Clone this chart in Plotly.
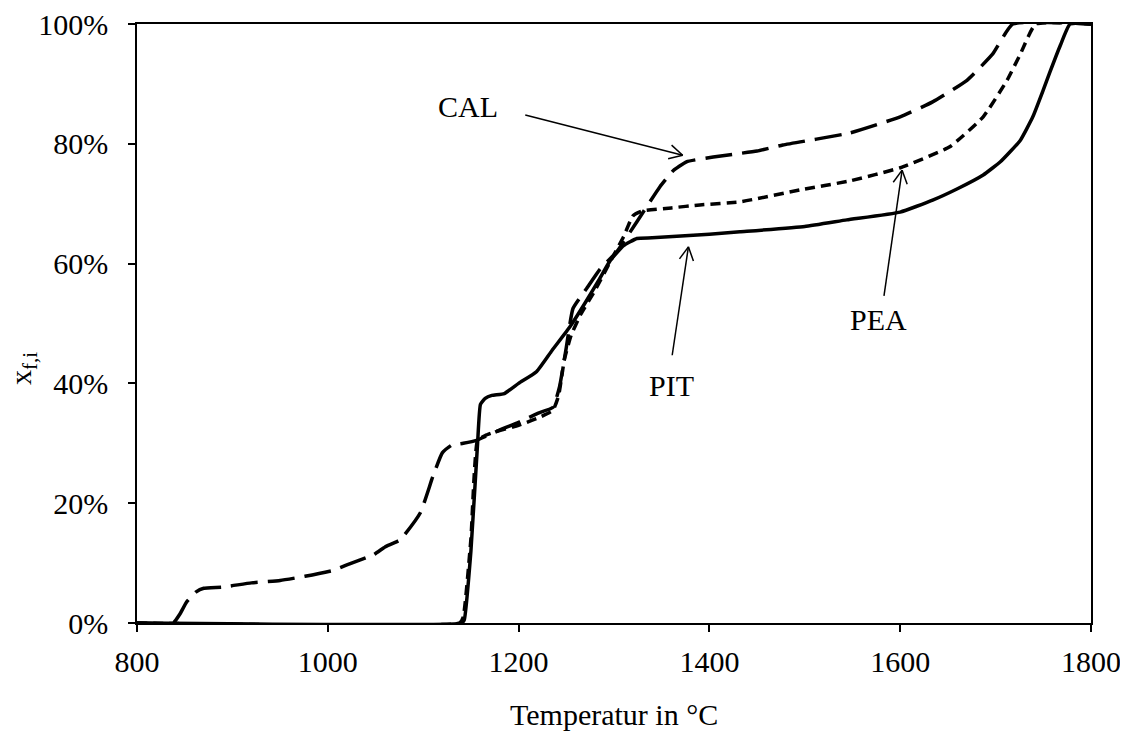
import math
import plotly.graph_objects as go

# ---------------- data ----------------
cal_T = [800, 838, 845, 852, 862, 870, 890, 920, 950, 976, 1006, 1020, 1048, 1060, 1076,
         1097, 1110, 1120, 1130, 1142, 1156, 1180, 1200, 1220, 1236, 1243, 1250, 1257,
         1272, 1285, 1303, 1324, 1348, 1362, 1376, 1404, 1450, 1477, 1547, 1600, 1634,
         1670, 1697, 1718, 1800]
cal_v = [0, 0, 1.5, 3.5, 5.2, 5.8, 6.0, 6.7, 7.1, 7.8, 8.8, 9.7, 11.4, 12.7, 13.9,
         18.4, 24.4, 28.4, 29.7, 30.0, 30.5, 32.2, 33.5, 35.0, 36.0, 39.5, 46.0, 52.5,
         56.0, 59.0, 62.0, 67.0, 72.8, 75.5, 77.0, 77.8, 78.8, 79.8, 81.8, 84.5, 87.0,
         90.6, 95.0, 100, 100]

pea_T = [800, 1138, 1142, 1150, 1157, 1165, 1177, 1200, 1220, 1236, 1242, 1248, 1255,
         1265, 1280, 1295, 1310, 1320, 1330, 1360, 1390, 1432, 1495, 1547, 1600, 1652,
         1687, 1712, 1726, 1742, 1800]
pea_v = [0, 0, 1, 14, 30.5, 31.3, 32.0, 33.0, 34.2, 35.5, 38.0, 44.0, 48.0,
         51.5, 55.5, 60.0, 64.5, 68.0, 68.8, 69.3, 69.8, 70.3, 72.3, 73.8, 76.0, 79.5,
         84.5, 90.6, 95.0, 100, 100]

pit_T = [800, 1140, 1143, 1150, 1157, 1160, 1165, 1172, 1185, 1200, 1219, 1235, 1254,
         1270, 1285, 1296, 1310, 1324, 1340, 1400, 1432, 1500, 1544, 1600, 1634, 1660,
         1687, 1705, 1726, 1739, 1750, 1757, 1768, 1778, 1800]
pit_v = [0, 0, 0.5, 12, 30, 36.5, 37.5, 38.0, 38.3, 40.0, 42.0, 45.5, 49.5,
         53.5, 57.5, 60.5, 63.0, 64.2, 64.3, 64.9, 65.3, 66.2, 67.3, 68.6, 70.6, 72.5,
         74.8, 77.0, 80.6, 84.5, 89.0, 92.0, 96.5, 100, 100]

x_ticks = [800, 1000, 1200, 1400, 1600, 1800]
x_tick_labels = ["800", "1000", "1200", "1400", "1600", "1800"]
y_ticks = [0, 20, 40, 60, 80, 100]
y_tick_labels = ["0%", "20%", "40%", "60%", "80%", "100%"]

x_title = "Temperatur in °C"
y_title = "x<sub>f,i</sub>"

labels = ["CAL", "PIT", "PEA"]
label_pos = [(1147, 86.2), (1360, 39.6), (1577, 50.6)]
arrow_tail = [(1207, 84.8), (1361, 44.7), (1583, 54.6)]
arrow_tip = [(1372, 78.1), (1378, 62.8), (1602, 75.6)]

# ---------------- figure ----------------
FONT = "Liberation Serif"
FS = 30
W, H = 1120, 725
L, R, T, B = 129, 37, 16, 110
PW, PH = W - L - R, H - T - B
XR = (800, 1800)
YR = (0, 100)
sx = PW / (XR[1] - XR[0])
sy = PH / (YR[1] - YR[0])

line_common = dict(color="black", width=3.5)
fig = go.Figure()
fig.add_trace(go.Scatter(x=cal_T, y=cal_v, mode="lines", name="CAL",
                         line=dict(line_common, dash="27px,10px", shape="spline", smoothing=0.4)))
fig.add_trace(go.Scatter(x=pea_T, y=pea_v, mode="lines", name="PEA",
                         line=dict(line_common, dash="10px,6px", shape="spline", smoothing=0.4)))
fig.add_trace(go.Scatter(x=pit_T, y=pit_v, mode="lines", name="PIT",
                         line=dict(line_common, shape="spline", smoothing=0.4)))

shapes = []
for (tx, ty), (hx, hy) in zip(arrow_tail, arrow_tip):
    shapes.append(dict(type="line", xref="x", yref="y", x0=tx, y0=ty, x1=hx, y1=hy,
                       line=dict(color="black", width=1.5)))
    # open V arrow head computed in pixel space
    dxp = (hx - tx) * sx
    dyp = (hy - ty) * sy
    ang = math.atan2(dyp, dxp)
    for s in (1, -1):
        a = ang + math.pi + s * math.radians(28)
        ex = hx + 15 * math.cos(a) / sx
        ey = hy + 15 * math.sin(a) / sy
        shapes.append(dict(type="line", xref="x", yref="y", x0=hx, y0=hy, x1=ex, y1=ey,
                           line=dict(color="black", width=1.5)))

annotations = []
for lab, (lx, ly) in zip(labels, label_pos):
    annotations.append(dict(x=lx, y=ly, xref="x", yref="y", text=lab, showarrow=False,
                            xanchor="center", yanchor="middle",
                            font=dict(family=FONT, size=FS, color="black")))
annotations.append(dict(x=(23 - 137) / PW, y=(623 - 369) / PH, xref="paper", yref="paper",
                        text=y_title, textangle=-90, showarrow=False,
                        xanchor="center", yanchor="middle",
                        font=dict(family=FONT, size=FS, color="black")))
annotations.append(dict(x=0.5, y=(623 - 714) / PH, xref="paper", yref="paper",
                        text=x_title, showarrow=False,
                        xanchor="center", yanchor="middle",
                        font=dict(family=FONT, size=FS, color="black")))

fig.update_layout(
    width=W, height=H,
    margin=dict(l=L, r=R, t=T, b=B, autoexpand=False),
    paper_bgcolor="white", plot_bgcolor="white",
    showlegend=False,
    shapes=shapes,
    annotations=annotations,
    font=dict(family=FONT, size=FS, color="black"),
)
fig.update_xaxes(range=list(XR), tickmode="array", tickvals=x_ticks, ticktext=x_tick_labels,
                 ticks="outside", ticklen=7, ticklabelstandoff=4, ticklabeloverflow="allow",
                 automargin=False,
                 tickwidth=1.5, tickcolor="black", showline=True, linecolor="black",
                 linewidth=1.5, mirror=True, showgrid=False, zeroline=False,
                 tickfont=dict(family=FONT, size=FS))
fig.update_yaxes(range=list(YR), tickmode="array", tickvals=y_ticks, ticktext=y_tick_labels,
                 ticks="outside", ticklabelstandoff=14, ticklabeloverflow="allow",
                 automargin=False,
                 ticklen=7, tickwidth=1.5, tickcolor="black", showline=True,
                 linecolor="black", linewidth=1.5, mirror=True, showgrid=False,
                 zeroline=False, tickfont=dict(family=FONT, size=FS))

fig.write_html("out.html")
